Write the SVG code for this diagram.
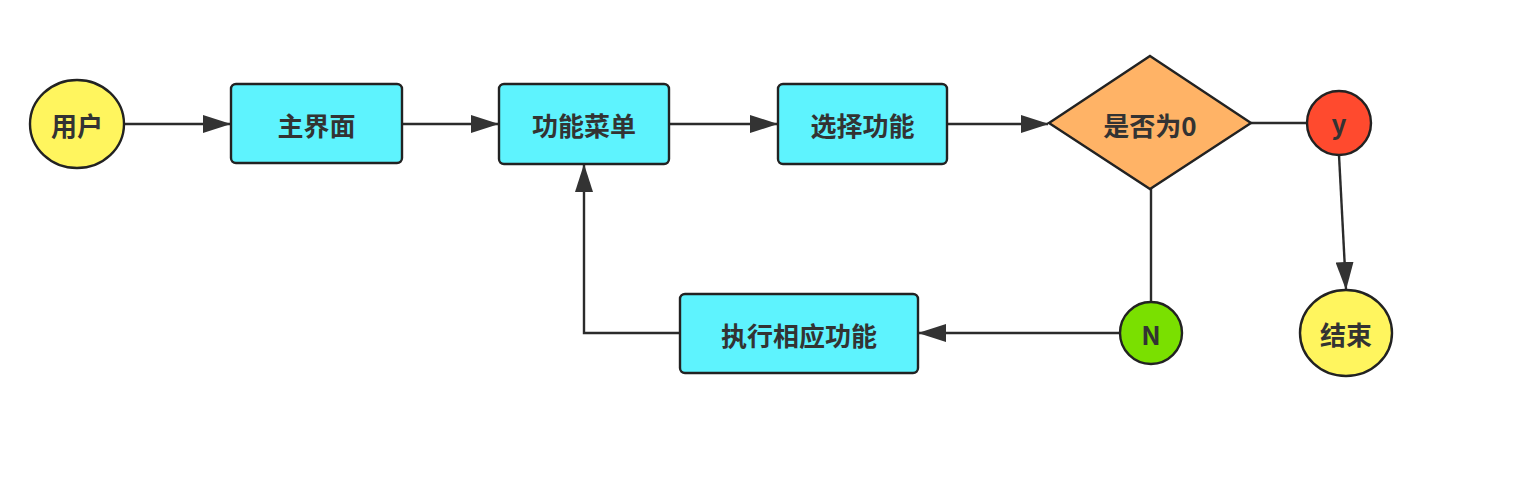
<svg xmlns="http://www.w3.org/2000/svg" width="1537" height="491" viewBox="0 0 1537 491">
<style>
.s{stroke:#222;stroke-width:2.4}
.box{fill:#5ef3fe}
.yel{fill:#fff55e}
.t{font-family:"Noto Sans CJK SC","Liberation Sans",sans-serif;font-size:26px;font-weight:bold;fill:#333;text-anchor:middle;dominant-baseline:central}
.c{fill:none;stroke:#2b2b2b;stroke-width:2.4}
</style>
<defs>
<marker id="a" viewBox="0 0 28 18" refX="27" refY="9" markerWidth="28" markerHeight="18" markerUnits="userSpaceOnUse" orient="auto">
<path d="M0,0 L28,9 L0,18 Z" fill="#333"/>
</marker>
</defs>
<rect width="1537" height="491" fill="#fff"/>
<g id="connectors">
<line class="c" x1="124" y1="124" x2="230" y2="124" marker-end="url(#a)"/>
<line class="c" x1="402" y1="124" x2="498" y2="124" marker-end="url(#a)"/>
<line class="c" x1="669" y1="124" x2="777" y2="124" marker-end="url(#a)"/>
<line class="c" x1="947" y1="124" x2="1048" y2="124" marker-end="url(#a)"/>
<line class="c" x1="1251" y1="123" x2="1308" y2="123"/>
<line class="c" x1="1339" y1="155" x2="1346" y2="289" marker-end="url(#a)"/>
<line class="c" x1="1151" y1="189" x2="1151" y2="302"/>
<line class="c" x1="1120" y1="333" x2="919" y2="333" marker-end="url(#a)"/>
<polyline class="c" points="680,333 584,333 584,165" marker-end="url(#a)"/>
</g>
<g id="user">
<ellipse class="s yel" cx="77" cy="124" rx="47" ry="44"/>
<text class="t" x="77" y="124">用户</text>
</g>
<g id="main">
<rect class="s box" x="231" y="84" width="171" height="79" rx="5"/>
<text class="t" x="316.5" y="124">主界面</text>
</g>
<g id="menu">
<rect class="s box" x="499" y="84" width="170" height="80" rx="5"/>
<text class="t" x="584" y="124">功能菜单</text>
</g>
<g id="select">
<rect class="s box" x="778" y="84" width="169" height="80" rx="5"/>
<text class="t" x="862.5" y="124">选择功能</text>
</g>
<g id="decision">
<polygon class="s" fill="#ffb366" points="1150,56 1251,123 1150,189 1049,123"/>
<text class="t" x="1150" y="124">是否为0</text>
</g>
<g id="yes">
<circle class="s" fill="#ff4a2e" cx="1339" cy="123" r="32"/>
<text class="t" x="1339" y="122">y</text>
</g>
<g id="no">
<circle class="s" fill="#7ae000" cx="1151" cy="333" r="31"/>
<text class="t" x="1151" y="333">N</text>
</g>
<g id="end">
<ellipse class="s yel" cx="1346" cy="333" rx="46" ry="43"/>
<text class="t" x="1346" y="333">结束</text>
</g>
<g id="execute">
<rect class="s box" x="680" y="294" width="238" height="79" rx="5"/>
<text class="t" x="799" y="334">执行相应功能</text>
</g>
</svg>
